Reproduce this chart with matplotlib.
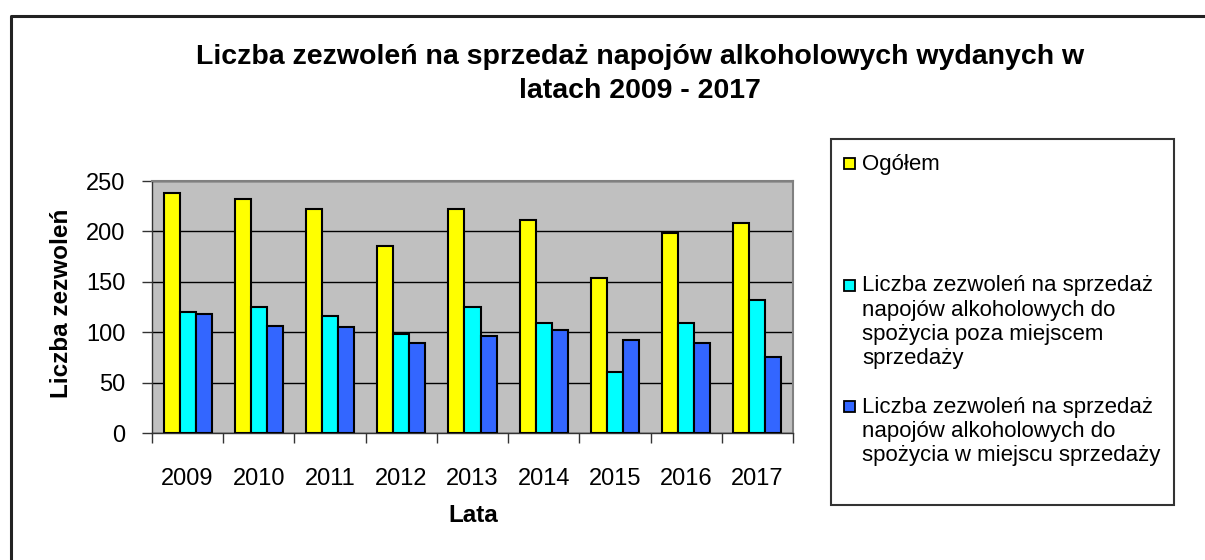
import matplotlib.pyplot as plt
import numpy as np
from matplotlib.patches import Rectangle
from matplotlib.lines import Line2D

plt.rcParams['font.family'] = ['Liberation Sans', 'DejaVu Sans']

years = ['2009', '2010', '2011', '2012', '2013', '2014', '2015', '2016', '2017']
ogolem = [238, 232, 222, 186, 222, 211, 154, 198, 208]
poza_miejscem = [120, 125, 116, 98, 125, 109, 61, 109, 132]
w_miejscu = [118, 106, 105, 89, 96, 102, 92, 89, 75]

series_names = [
    'Ogółem',
    'Liczba zezwoleń na sprzedaż\nnapojów alkoholowych do\nspożycia poza miejscem\nsprzedaży',
    'Liczba zezwoleń na sprzedaż\nnapojów alkoholowych do\nspożycia w miejscu sprzedaży',
]
colors = ['#FFFF00', '#00FFFF', '#3366FF']

W, H = 1205, 560
fig = plt.figure(figsize=(W / 100, H / 100), dpi=100)


def fx(px):
    return px / W


def fy(py):
    return 1 - py / H


# outer frame (only top and left edges visible)
fig.add_artist(Line2D([fx(10.5), fx(10.5), fx(1205)], [fy(560), fy(15.5), fy(15.5)],
                      color='#222222', lw=2.2, transform=fig.transFigure))

ax = fig.add_axes([fx(152), fy(433), fx(793) - fx(152), fy(181) - fy(433)])
ax.set_facecolor('#C0C0C0')

x = np.arange(len(years))
bw = 0.225
for i, (vals, c) in enumerate(zip([ogolem, poza_miejscem, w_miejscu], colors)):
    ax.bar(x + (i - 1) * bw, vals, bw, color=c, edgecolor='black', linewidth=1.5, zorder=3)

ax.set_xlim(-0.5, len(years) - 0.5)
ax.set_ylim(0, 250)
ax.set_yticks(range(0, 251, 50))
ax.grid(axis='y', color='black', linewidth=1, zorder=1)
ax.set_axisbelow(True)

ax.set_xticks(np.arange(-0.5, len(years), 1))
ax.set_xticklabels([])
ax.set_xticks(x, minor=True)
ax.set_xticklabels(years, minor=True)
ax.tick_params(axis='x', which='major', length=7, width=1, color='#333333', direction='out')
ax.tick_params(axis='x', which='minor', length=0, pad=25, labelsize=17)
ax.tick_params(axis='y', length=7, width=1, color='#333333', pad=12, labelsize=17)

for side in ['left', 'bottom']:
    ax.spines[side].set_color('#333333')
    ax.spines[side].set_linewidth(1)
for side in ['top', 'right']:
    ax.spines[side].set_color('#808080')
    ax.spines[side].set_linewidth(1.5)

fig.text(fx(640), fy(74), 'Liczba zezwoleń na sprzedaż napojów alkoholowych wydanych w\nlatach 2009 - 2017',
         ha='center', va='center', fontsize=20.5, fontweight='bold', linespacing=1.36)
fig.text(fx(62), fy(303), 'Liczba zezwoleń', rotation=90, ha='center', va='center',
         fontsize=17.5, fontweight='bold')
fig.text(fx(473), fy(515), 'Lata', ha='center', va='center', fontsize=17.5, fontweight='bold')

# legend box drawn by hand to keep the uneven spacing
fig.add_artist(Rectangle((fx(831), fy(505)), fx(1174) - fx(831), fy(139) - fy(505),
                         facecolor='white', edgecolor='#333333', lw=1.5, transform=fig.transFigure))
first_line_y = [164, 286, 407]
line_h = 24.3
for name, c, y0 in zip(series_names, colors, first_line_y):
    fig.add_artist(Rectangle((fx(844), fy(y0 + 5)), fx(11), 11 / H, facecolor=c,
                             edgecolor='black', lw=1.3, transform=fig.transFigure))
    for k, line in enumerate(name.split('\n')):
        fig.text(fx(862), fy(y0 + k * line_h), line, ha='left', va='center', fontsize=16)

fig.savefig('out.png', dpi=100)
